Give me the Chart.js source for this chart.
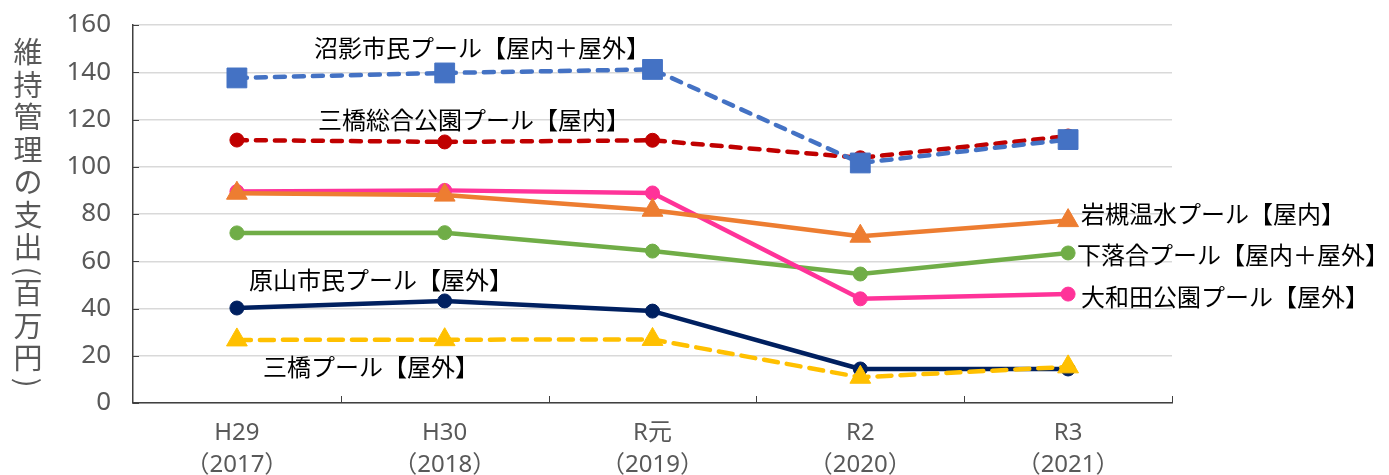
<!DOCTYPE html>
<html lang="ja">
<head>
<meta charset="utf-8">
<title>プール維持管理の支出</title>
<script src="https://cdn.jsdelivr.net/npm/chart.js@4.4.1/dist/chart.umd.min.js"></script>
<style>
  html, body { margin: 0; padding: 0; background: #ffffff; }
  #wrap { position: relative; width: 1389px; height: 475px; }
</style>
</head>
<body>
<div id="wrap"><canvas id="poolChart" width="1389" height="475"></canvas></div>
<script>
/* ============================================
   市営プール 維持管理の支出（百万円）
   ============================================ */

// 年度ラベル（2行）
const years = [
    ['H29', '（2017）'],
    ['H30', '（2018）'],
    ['R元', '（2019）'],
    ['R2', '（2020）'],
    ['R3', '（2021）']
];

// 施設名
const poolNames = [
    '沼影市民プール【屋内＋屋外】',
    '三橋総合公園プール【屋内】',
    '岩槻温水プール【屋内】',
    '大和田公園プール【屋外】',
    '下落合プール【屋内＋屋外】',
    '原山市民プール【屋外】',
    '三橋プール【屋外】'
];

// 支出（百万円）
const numakageValues   = [137.6, 139.7, 141.2, 101.6, 111.5];
const mitsuhashiParkValues = [111.3, 110.5, 111.2, 103.8, 113.0];
const iwatsukiValues   = [88.8, 88.0, 81.6, 70.6, 77.2];
const owadaValues      = [89.5, 90.0, 88.9, 44.1, 46.1];
const shimoochiaiValues = [72.0, 72.1, 64.3, 54.6, 63.5];
const harayamaValues   = [40.2, 43.2, 38.9, 14.4, 14.4];
const mitsuhashiValues = [26.7, 26.8, 26.9, 10.9, 15.3];

// 縦軸
const yTicks = [0, 20, 40, 60, 80, 100, 120, 140, 160];
const yTitle = '維持管理の支出(百万円)';

const FONT = '"Noto Sans CJK JP", "Noto Sans", sans-serif';
const NUM_FONT = '"Noto Sans", "Noto Sans CJK JP", sans-serif';
const AXIS_GRAY = '#595959';

/**
 * Line dataset helper
 */
function poolDataset(name, values, color, opts) {
    return Object.assign({
        label: name,
        data: values,
        borderColor: color,
        backgroundColor: color,
        pointBackgroundColor: color,
        pointBorderColor: color,
        pointBorderWidth: 1,
        borderWidth: 4.5,
        borderCapStyle: 'round',
        borderJoinStyle: 'round',
        tension: 0,
        pointStyle: 'circle',
        pointRadius: 7,
        clip: false
    }, opts);
}

const datasets = [
    poolDataset(poolNames[0], numakageValues, '#4472C4',
        { borderDash: [10, 9], pointStyle: 'rect', pointRadius: 14, order: 1 }),
    poolDataset(poolNames[1], mitsuhashiParkValues, '#C00000',
        { borderDash: [10, 9], order: 2 }),
    poolDataset(poolNames[2], iwatsukiValues, '#ED7D31',
        { pointStyle: 'triangle', pointRadius: 12, order: 5 }),
    poolDataset(poolNames[3], owadaValues, '#FF3399', { order: 6 }),
    poolDataset(poolNames[4], shimoochiaiValues, '#70AD47', { order: 7 }),
    poolDataset(poolNames[5], harayamaValues, '#002060', { order: 4 }),
    poolDataset(poolNames[6], mitsuhashiValues, '#FFC000',
        { borderDash: [14, 9], pointStyle: 'triangle', pointRadius: 12, order: 3 })
];

// 系列名の置き場所（点からのずれ, px）
const labelSpots = [
    { series: 0, cat: 0, dx: 77, dy: -30 },
    { series: 1, cat: 0, dx: 81, dy: -20 },
    { series: 2, cat: 4, dx: 13, dy: -7 },
    { series: 4, cat: 4, dx: 9, dy: 2 },
    { series: 3, cat: 4, dx: 13, dy: 3 },
    { series: 5, cat: 0, dx: 12, dy: -28 },
    { series: 6, cat: 0, dx: 26, dy: 27 }
];

/**
 * Series names next to the lines
 */
const seriesLabelPlugin = {
    id: 'seriesLabels',
    afterDatasetsDraw(chart) {
        const { ctx, scales } = chart;
        ctx.save();
        ctx.font = '24px ' + FONT;
        ctx.fillStyle = '#000000';
        ctx.textAlign = 'left';
        ctx.textBaseline = 'middle';
        labelSpots.forEach(spot => {
            const value = chart.data.datasets[spot.series].data[spot.cat];
            const px = scales.x.getPixelForValue(spot.cat) + spot.dx;
            const py = scales.y.getPixelForValue(value) + spot.dy;
            ctx.fillText(poolNames[spot.series], px, py);
        });
        ctx.restore();
    }
};

/**
 * Short tick marks pointing into the plot area
 */
const innerTickPlugin = {
    id: 'innerTicks',
    afterDraw(chart) {
        const { ctx, scales, chartArea } = chart;
        ctx.save();
        ctx.strokeStyle = '#404040';
        ctx.lineWidth = 1;
        ctx.beginPath();
        scales.y.ticks.forEach(t => {
            const py = Math.round(scales.y.getPixelForValue(t.value)) + 0.5;
            ctx.moveTo(chartArea.left, py);
            ctx.lineTo(chartArea.left + 6, py);
        });
        const half = (scales.x.getPixelForValue(1) - scales.x.getPixelForValue(0)) / 2;
        years.forEach((_, i) => {
            const px = Math.round(scales.x.getPixelForValue(i) + half) + 0.5;
            ctx.moveTo(px, chartArea.bottom);
            ctx.lineTo(px, chartArea.bottom - 7);
        });
        ctx.stroke();
        ctx.restore();
    }
};

/**
 * Vertical axis title, one character under another
 */
const verticalTitlePlugin = {
    id: 'verticalTitle',
    afterDraw(chart) {
        const ctx = chart.ctx;
        ctx.save();
        ctx.font = '29px ' + FONT;
        ctx.fillStyle = AXIS_GRAY;
        ctx.textAlign = 'center';
        ctx.textBaseline = 'middle';
        const cx = 28;
        let top = 37;
        for (const ch of yTitle) {
            if (ch === '(' || ch === ')') {
                const w = ctx.measureText(ch).width;
                ctx.save();
                ctx.translate(cx, top + w / 2 + 2);
                ctx.rotate(Math.PI / 2);
                ctx.fillText(ch, 0, 0);
                ctx.restore();
                top += w + 4;
            } else {
                ctx.fillText(ch, cx, top + 15);
                top += 32.5;
            }
        }
        ctx.restore();
    }
};

const poolChart = new Chart(document.getElementById('poolChart').getContext('2d'), {
    type: 'line',
    data: { labels: years, datasets: datasets },
    options: {
        responsive: false,
        animation: false,
        devicePixelRatio: 1,
        layout: { padding: { top: 25, right: 217, left: 0, bottom: 0 } },
        plugins: {
            legend: { display: false },
            tooltip: { enabled: false }
        },
        scales: {
            x: {
                offset: true,
                grid: { display: false },
                border: { display: true, color: '#404040', width: 1.5 },
                ticks: {
                    color: AXIS_GRAY,
                    font: { family: NUM_FONT, size: 24, lineHeight: 1.35 },
                    padding: 6,
                    maxRotation: 0,
                    autoSkip: false
                },
                afterFit(scale) { scale.height = 72; }
            },
            y: {
                min: 0,
                max: 160,
                afterBuildTicks(scale) {
                    scale.ticks = yTicks.map(v => ({ value: v }));
                },
                grid: { color: '#d9d9d9', lineWidth: 1.5, drawTicks: false },
                border: { display: true, color: '#404040', width: 1.5 },
                ticks: {
                    color: AXIS_GRAY,
                    font: { family: NUM_FONT, size: 26 },
                    padding: 22
                },
                afterFit(scale) {
                    scale.width = 133;
                    scale.paddingTop = 0;
                    scale.paddingBottom = 0;
                }
            }
        }
    },
    plugins: [seriesLabelPlugin, innerTickPlugin, verticalTitlePlugin]
});
</script>
</body>
</html>
